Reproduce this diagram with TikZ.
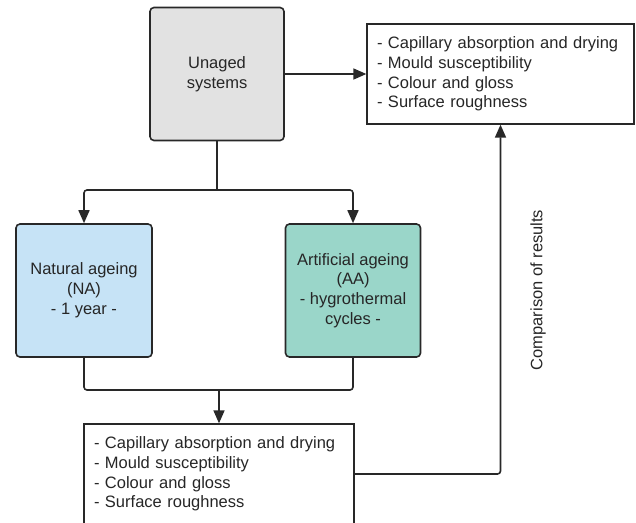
\documentclass[tikz,border=0pt]{standalone}
\usepackage{fontspec}
\setmainfont{Liberation Sans}
\usetikzlibrary{positioning,arrows.meta}

\definecolor{unagedgray}{RGB}{226,226,226}
\definecolor{naturalblue}{RGB}{198,227,246}
\definecolor{artificialteal}{RGB}{154,214,201}
\definecolor{linegray}{RGB}{40,40,40}

\begin{document}
\begin{tikzpicture}[x=1pt, y=-1pt, font=\fontsize{16.5}{19.8}\selectfont]

% Define styles
\tikzstyle{stage} = [rectangle, rounded corners=4pt, draw=linegray, line width=1.6pt, align=center, minimum height=133pt, text=black!85]
\tikzstyle{results} = [rectangle, draw=linegray, line width=1.3pt, align=left, minimum height=100pt, inner sep=10pt, text=black!85]
\tikzstyle{link} = [draw=linegray, line width=1.6pt, rounded corners=3pt]
\tikzstyle{arrow} = [link, -{Triangle[length=13pt, width=11pt]}]

\useasboundingbox (0,0) rectangle (636,522);

% Ageing stages
\node [stage, fill=unagedgray, minimum width=134pt] (unaged) at (217,74) {Unaged\\systems};
\node [stage, fill=naturalblue, minimum width=136pt] (natural) at (84,290.5) {Natural ageing\\(NA)\\- 1 year -};
\node [stage, fill=artificialteal, minimum width=135pt] (artificial) at (353,290.5) {Artificial ageing\\(AA)\\- hygrothermal\\cycles -};

% Test results
\node [results, text width=247pt] (resTop) at (500.5,74) {- Capillary absorption and drying\\- Mould susceptibility\\- Colour and gloss\\- Surface roughness};
\node [results, text width=250pt] (resBottom) at (219,474) {- Capillary absorption and drying\\- Mould susceptibility\\- Colour and gloss\\- Surface roughness};

% Label of the feedback line
\node [rotate=90, text=black!85] (compare) at (538,290) {Comparison of results};

% Branch points
\coordinate (split) at (217,190);
\coordinate (merge) at (219,390);

% Connections
\draw [arrow] (unaged) -- (resTop);
\draw [link] (unaged) -- (split);
\draw [arrow] (split) -| (natural);
\draw [arrow] (split) -| (artificial);
\draw [link] (natural) |- (merge) -| (artificial);
\draw [arrow] (merge) -- (resBottom);
\draw [arrow] (resBottom) -| (resTop);

\end{tikzpicture}
\end{document}
